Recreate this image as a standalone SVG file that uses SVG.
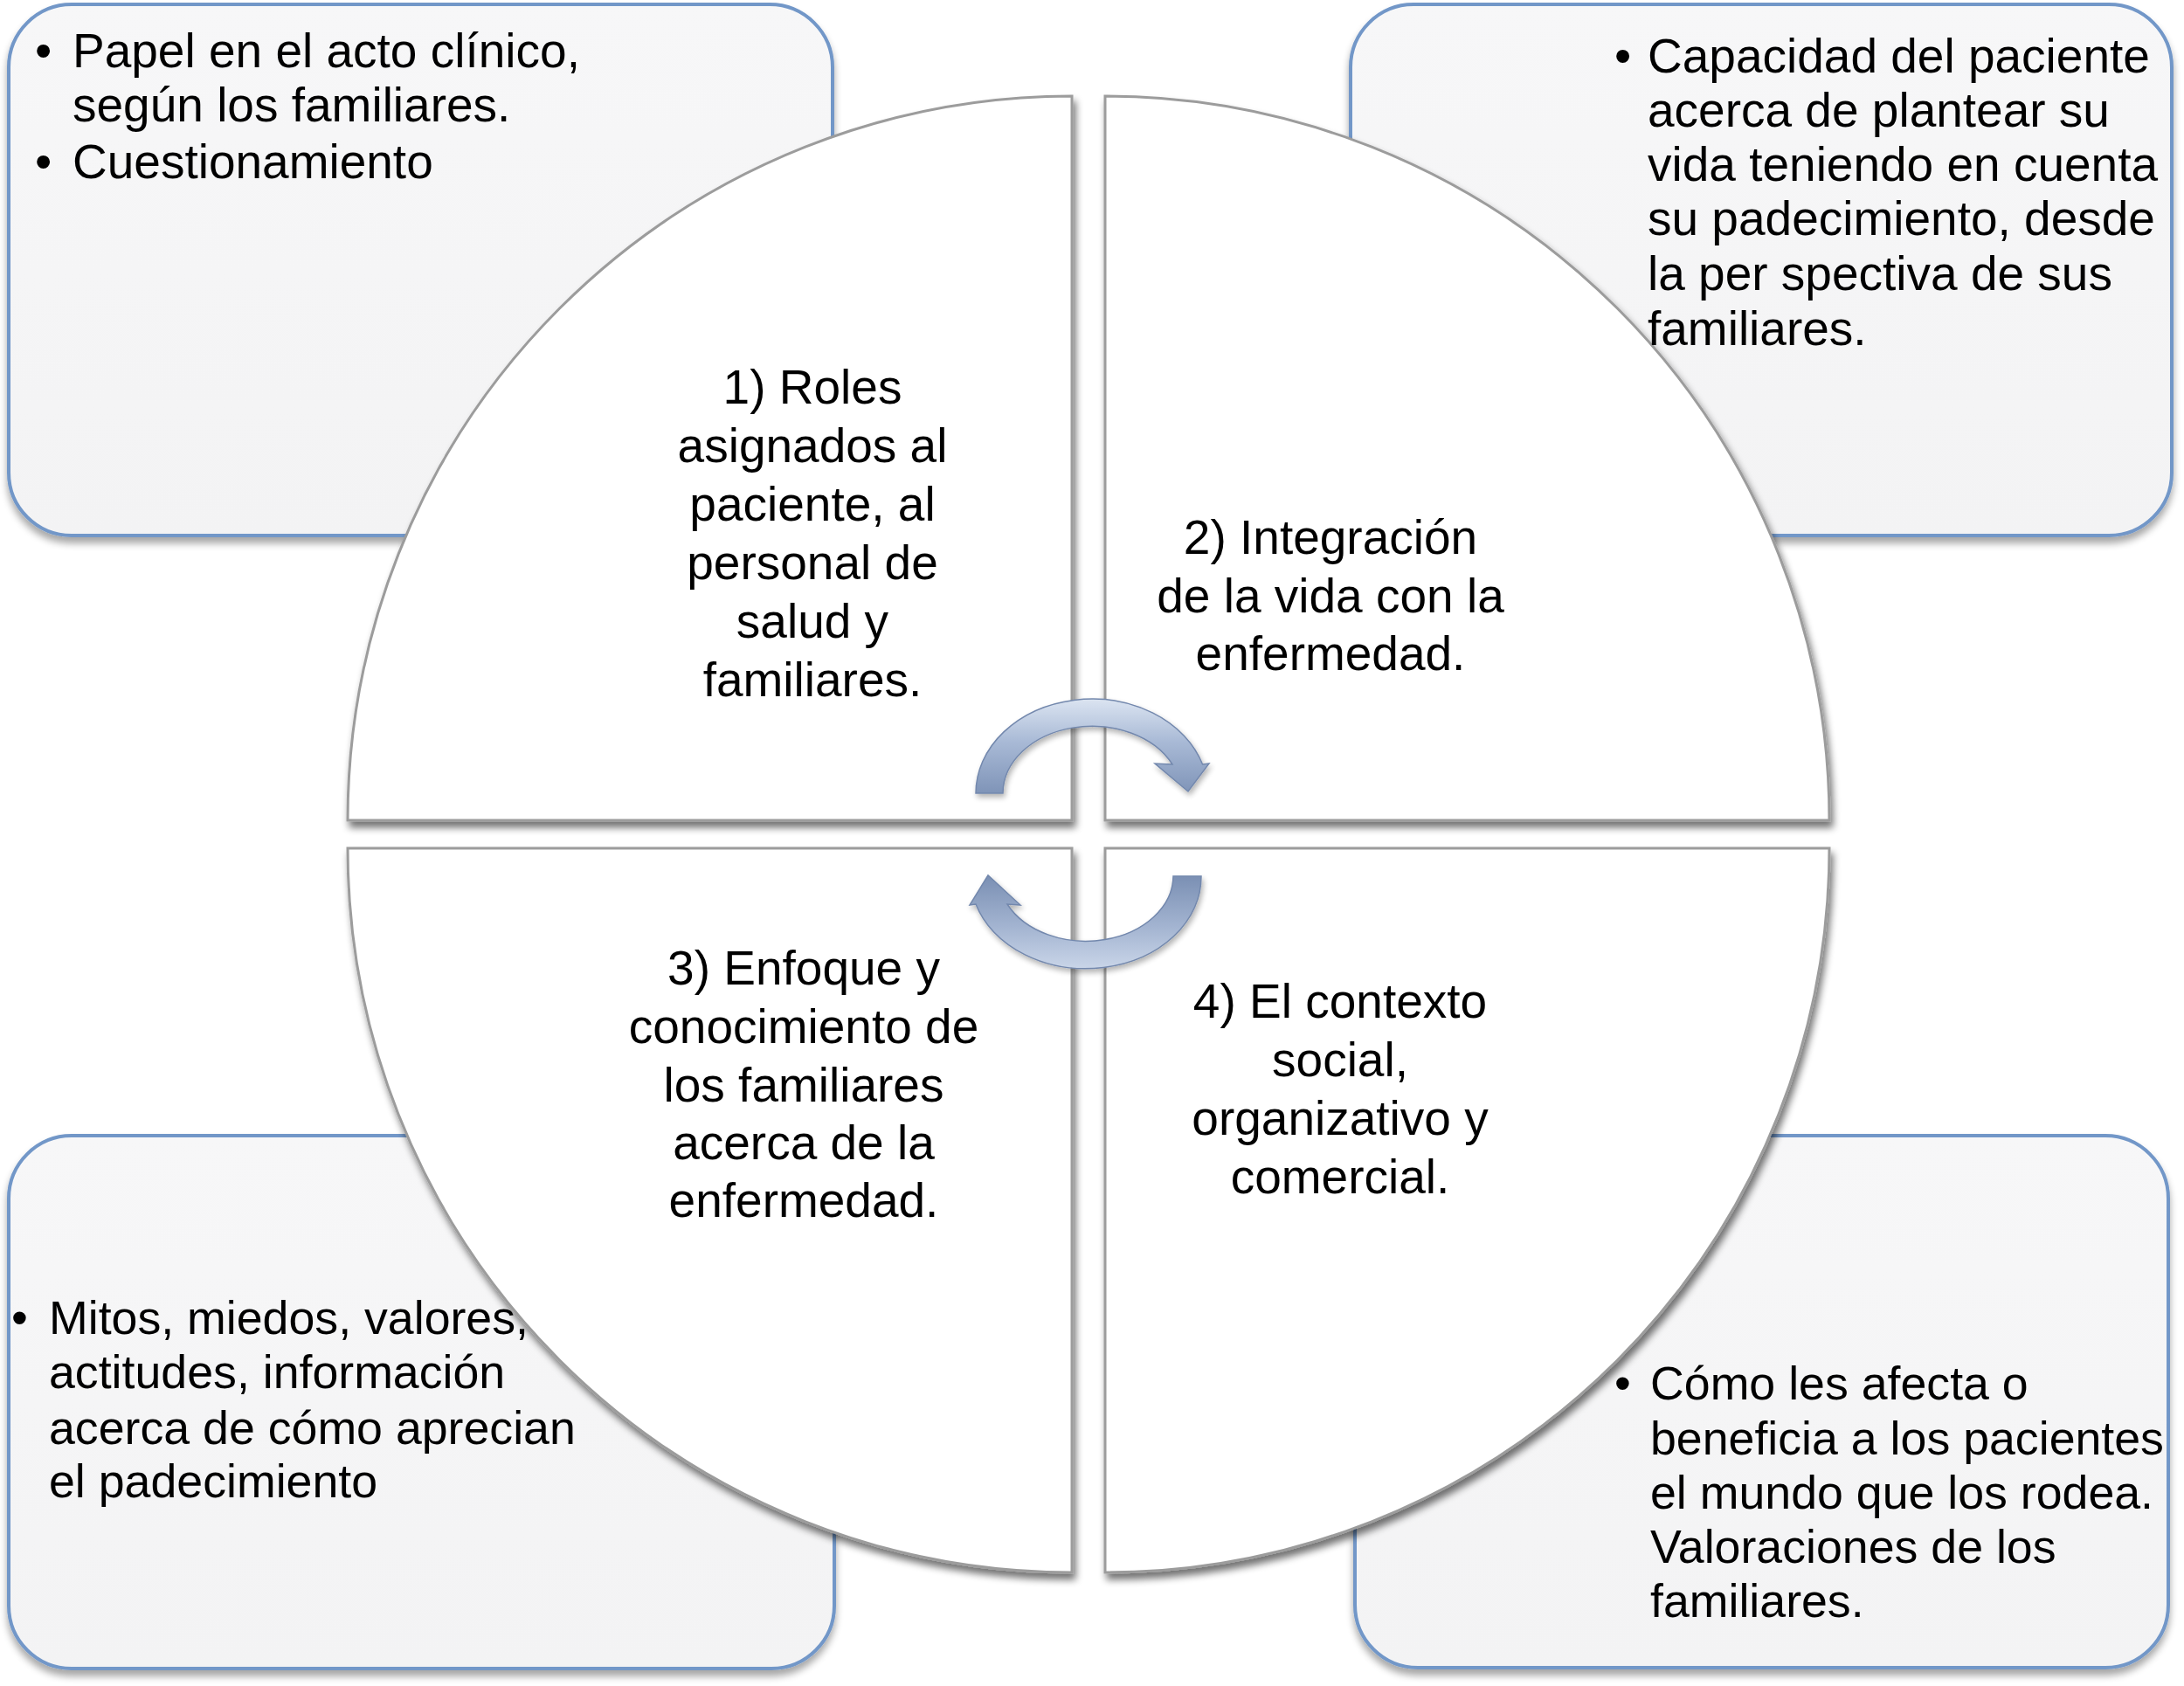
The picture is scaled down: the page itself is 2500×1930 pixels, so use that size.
<svg xmlns="http://www.w3.org/2000/svg" width="2500" height="1930" viewBox="0 0 2500 1930">
<style>
.box{fill:url(#boxg);stroke:#7297c8;stroke-width:4}
.quad{fill:#ffffff;stroke:#9c9c9c;stroke-width:3}
.arrow{fill:url(#arrg);stroke:#7388ad;stroke-width:1.5}
.t{font-family:"Liberation Sans",Arial,Helvetica,sans-serif;font-size:55px;fill:#000}
.s{font-size:53.7px}
.c{text-anchor:middle}
</style>
<defs>
<linearGradient id="boxg" x1="0" y1="0" x2="0" y2="1">
<stop offset="0" stop-color="#f7f7f8"/>
<stop offset="1" stop-color="#f3f3f4"/>
</linearGradient>
<linearGradient id="arrg" x1="0" y1="0" x2="0" y2="1">
<stop offset="0" stop-color="#dbe4f1"/>
<stop offset="0.45" stop-color="#a9bad6"/>
<stop offset="1" stop-color="#7f94b8"/>
</linearGradient>
<linearGradient id="arrg2" x1="0" y1="1" x2="0" y2="0">
<stop offset="0" stop-color="#c9d5e8"/>
<stop offset="0.45" stop-color="#a3b4d1"/>
<stop offset="1" stop-color="#7a8fb3"/>
</linearGradient>
<filter id="bsh" x="-5%" y="-5%" width="110%" height="115%">
<feGaussianBlur in="SourceAlpha" stdDeviation="4"/>
<feOffset dx="0" dy="7" result="o"/>
<feComponentTransfer><feFuncA type="linear" slope="0.35"/></feComponentTransfer>
<feMerge><feMergeNode/><feMergeNode in="SourceGraphic"/></feMerge>
</filter>
<filter id="qsh" x="-5%" y="-5%" width="110%" height="110%">
<feGaussianBlur in="SourceAlpha" stdDeviation="4.5"/>
<feOffset dx="3" dy="7" result="o"/>
<feComponentTransfer><feFuncA type="linear" slope="0.55"/></feComponentTransfer>
<feMerge><feMergeNode/><feMergeNode in="SourceGraphic"/></feMerge>
</filter>
<filter id="ash" x="-10%" y="-10%" width="120%" height="130%">
<feGaussianBlur in="SourceAlpha" stdDeviation="3"/>
<feOffset dx="2" dy="4" result="o"/>
<feComponentTransfer><feFuncA type="linear" slope="0.3"/></feComponentTransfer>
<feMerge><feMergeNode/><feMergeNode in="SourceGraphic"/></feMerge>
</filter>
</defs>
<rect width="2500" height="1930" fill="#ffffff"/>

<g id="box-tl"><rect class="box" filter="url(#bsh)" x="10" y="5" width="943" height="608" rx="72" ry="72"/></g>
<g id="box-tr"><rect class="box" filter="url(#bsh)" x="1546" y="5" width="940" height="608" rx="72" ry="72"/></g>
<g id="box-bl"><rect class="box" filter="url(#bsh)" x="10" y="1300" width="945" height="610" rx="72" ry="72"/></g>
<g id="box-br"><rect class="box" filter="url(#bsh)" x="1551" y="1300" width="931" height="609" rx="72" ry="72"/></g>

<g id="quad-1"><path class="quad" filter="url(#qsh)" d="M1227 939 L398 939 A829 829 0 0 1 1227 110 Z"/></g>
<g id="quad-2"><path class="quad" filter="url(#qsh)" d="M1265 939 L1265 110 A829 829 0 0 1 2094 939 Z"/></g>
<g id="quad-3"><path class="quad" filter="url(#qsh)" d="M1227 971 L1227 1800 A829 829 0 0 1 398 971 Z"/></g>
<g id="quad-4"><path class="quad" filter="url(#qsh)" d="M1265 971 L2094 971 A829 829 0 0 1 1265 1800 Z"/></g>

<g id="connectors">
<path class="arrow" filter="url(#ash)" d="M1117 908 A133 108 0 0 1 1376.6 875 L1384 874 L1360 906 L1322 874 L1342 875 A102 77 0 0 0 1148 908 Z"/>
<path class="arrow" filter="url(#ash)" style="fill:url(#arrg2)" d="M1375 1003 A132 105 0 0 1 1117 1035 L1110 1036 L1131 1002 L1168 1036 L1153 1035 A100 75 0 0 0 1343 1003 Z"/>
</g>

<g id="text-q1" class="t c">
<text x="930" y="462">1) Roles</text>
<text x="930" y="529">asignados al</text>
<text x="930" y="596">paciente, al</text>
<text x="930" y="663">personal de</text>
<text x="930" y="730">salud y</text>
<text x="930" y="797">familiares.</text>
</g>
<g id="text-q2" class="t c">
<text x="1523" y="634">2) Integración</text>
<text x="1523" y="701">de la vida con la</text>
<text x="1523" y="767">enfermedad.</text>
</g>
<g id="text-q3" class="t c">
<text x="920" y="1127">3) Enfoque y</text>
<text x="920" y="1194">conocimiento de</text>
<text x="920" y="1261">los familiares</text>
<text x="920" y="1327">acerca de la</text>
<text x="920" y="1393">enfermedad.</text>
</g>
<g id="text-q4" class="t c">
<text x="1534" y="1165">4) El contexto</text>
<text x="1534" y="1232">social,</text>
<text x="1534" y="1299">organizativo y</text>
<text x="1534" y="1366">comercial.</text>
</g>

<g id="text-tl" class="t">
<text x="40" y="77">•</text><text x="83" y="77">Papel en el acto clínico,</text>
<text x="83" y="139">según los familiares.</text>
<text x="40" y="204">•</text><text x="83" y="204">Cuestionamiento</text>
</g>
<g id="text-tr" class="t">
<text x="1848" y="83">•</text><text x="1886" y="83">Capacidad del paciente</text>
<text x="1886" y="145">acerca de plantear su</text>
<text x="1886" y="207">vida teniendo en cuenta</text>
<text x="1886" y="269">su padecimiento, desde</text>
<text x="1886" y="332">la per spectiva de sus</text>
<text x="1886" y="395">familiares.</text>
</g>
<g id="text-bl" class="t s">
<text x="13" y="1527">•</text><text x="56" y="1527">Mitos, miedos, valores,</text>
<text x="56" y="1589">actitudes, información</text>
<text x="56" y="1653">acerca de cómo aprecian</text>
<text x="56" y="1714">el padecimiento</text>
</g>
<g id="text-br" class="t s">
<text x="1848" y="1602">•</text><text x="1889" y="1602">Cómo les afecta o</text>
<text x="1889" y="1665">beneficia a los pacientes</text>
<text x="1889" y="1727">el mundo que los rodea.</text>
<text x="1889" y="1789">Valoraciones de los</text>
<text x="1889" y="1851">familiares.</text>
</g>
</svg>
